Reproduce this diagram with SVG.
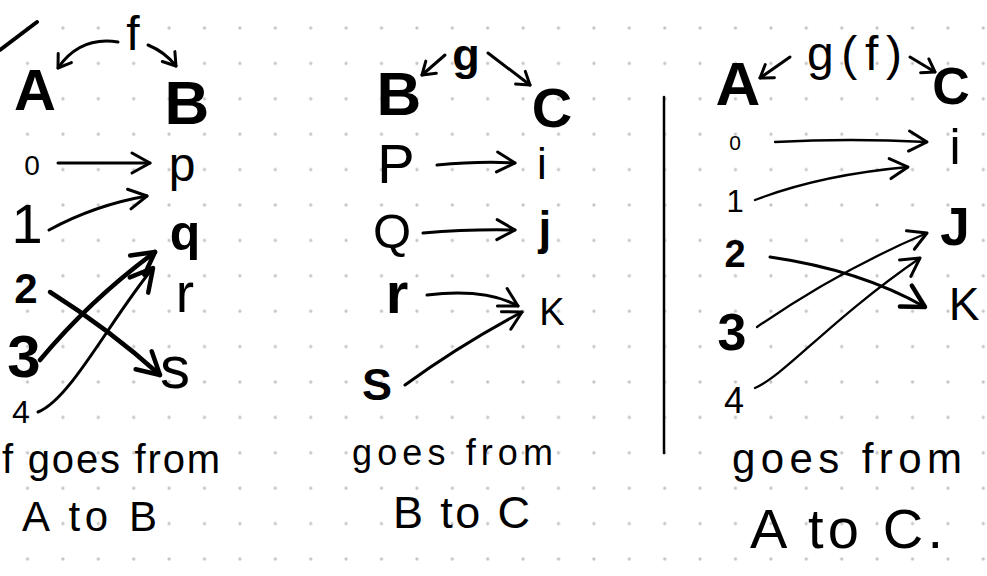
<svg xmlns="http://www.w3.org/2000/svg" width="987" height="576" viewBox="0 0 987 576">
<defs>
<pattern id="dots" patternUnits="userSpaceOnUse" x="9.8" y="10.3" width="35.4" height="35.4">
<circle cx="17.7" cy="17.7" r="1.6" fill="#c4c4c4"/>
</pattern>
<marker id="ah" markerUnits="userSpaceOnUse" viewBox="-24 -14 28 28" refX="0" refY="0" markerWidth="28" markerHeight="28" orient="auto" overflow="visible">
<path d="M-18,-10 L0,0 L-18,10" fill="none" stroke="#000" stroke-width="3" stroke-linecap="round" stroke-linejoin="round"/>
</marker>
<marker id="ahs" markerUnits="userSpaceOnUse" viewBox="-16 -10 20 20" refX="0" refY="0" markerWidth="20" markerHeight="20" orient="auto" overflow="visible">
<path d="M-12,-8 L0,0 L-12,8" fill="none" stroke="#000" stroke-width="3" stroke-linecap="round" stroke-linejoin="round"/>
</marker>
<marker id="ahb" markerUnits="userSpaceOnUse" viewBox="-28 -16 32 32" refX="0" refY="0" markerWidth="32" markerHeight="32" orient="auto" overflow="visible">
<path d="M-22,-12 L0,0 L-22,12" fill="none" stroke="#000" stroke-width="4.5" stroke-linecap="round" stroke-linejoin="round"/>
</marker>
</defs>
<style>
.t{font-family:"Liberation Sans",Arial,sans-serif;fill:#000;text-anchor:middle}
.b{font-weight:700}
.s{text-anchor:start}
.c{fill:none;stroke:#000;stroke-width:3;stroke-linecap:round;stroke-linejoin:round}
.cb{stroke-width:4.5}
.ct{stroke-width:2.3}
</style>
<rect width="987" height="576" fill="#fff"/>
<rect width="987" height="576" fill="url(#dots)"/>

<g id="decor">
<path class="c" d="M0,50 L37,22" style="stroke-width:4"/>
<path class="c" d="M664,97 L664,453" style="stroke-width:2.5"/>
</g>

<g id="connectors">
<path class="c" d="M118,42 Q80,36 58,68" marker-end="url(#ahs)"/>
<path class="c" d="M148,45 Q165,52 176,66" marker-end="url(#ahs)"/>
<path class="c" d="M58,163 L150,163" marker-end="url(#ah)"/>
<path class="c" d="M49,230 Q95,205 147,196" marker-end="url(#ah)"/>
<path class="c cb" d="M50,292 Q110,330 160,375" marker-end="url(#ahb)"/>
<path class="c cb" d="M40,360 Q90,300 155,252" marker-end="url(#ahb)"/>
<path class="c" d="M38,412 C70,400 110,320 153,268" marker-end="url(#ahb)"/>

<path class="c" d="M445,55 L422,75" marker-end="url(#ahs)"/>
<path class="c" d="M488,53 L530,85" marker-end="url(#ahs)"/>
<path class="c" d="M437,165 Q480,161 515,163" marker-end="url(#ah)"/>
<path class="c" d="M423,233 Q470,229 515,230" marker-end="url(#ah)"/>
<path class="c" d="M427,295 C470,290 500,296 518,306" marker-end="url(#ah)"/>
<path class="c" d="M405,385 Q460,345 522,312" marker-end="url(#ah)"/>

<path class="c" d="M790,57 L760,78" marker-end="url(#ahs)"/>
<path class="c" d="M910,57 L935,72" marker-end="url(#ahs)"/>
<path class="c ct" d="M775,142 Q850,138 927,142" marker-end="url(#ah)"/>
<path class="c ct" d="M755,200 Q820,175 908,167" marker-end="url(#ah)"/>
<path class="c" d="M770,257 Q860,270 925,307" marker-end="url(#ahb)"/>
<path class="c ct" d="M757,327 Q840,270 927,233" marker-end="url(#ah)"/>
<path class="c ct" d="M755,388 C785,375 830,320 920,258" marker-end="url(#ah)"/>
</g>

<g id="L-A"><text class="t b" x="35" y="110" font-size="58">A</text></g>
<g id="L-f"><text class="t" x="133" y="50" font-size="48">f</text></g>
<g id="L-B"><text class="t b" x="187" y="124" font-size="62">B</text></g>
<g id="L-0"><text class="t" x="32" y="175" font-size="28">0</text></g>
<g id="L-1"><text class="t" x="27" y="243" font-size="56">1</text></g>
<g id="L-2"><text class="t b" x="26" y="303" font-size="42">2</text></g>
<g id="L-3"><text class="t b" x="24" y="377" font-size="60">3</text></g>
<g id="L-4"><text class="t" x="21" y="423" font-size="32">4</text></g>
<g id="L-p"><text class="t" x="182" y="181" font-size="48">p</text></g>
<g id="L-q"><text class="t b" x="185" y="250" font-size="50">q</text></g>
<g id="L-r"><text class="t" x="185" y="312" font-size="55">r</text></g>
<g id="L-s"><text class="t" x="175" y="388" font-size="60">s</text></g>
<g id="L-caption">
<text class="t s" x="2" y="473" font-size="40" textLength="218" lengthAdjust="spacing">f goes from</text>
<text class="t s" x="22" y="531" font-size="42" textLength="135" lengthAdjust="spacing">A to B</text>
</g>

<g id="M-B"><text class="t b" x="399" y="115" font-size="62">B</text></g>
<g id="M-g"><text class="t b" x="466" y="70" font-size="45">g</text></g>
<g id="M-C"><text class="t b" x="552" y="127" font-size="56">C</text></g>
<g id="M-P"><text class="t" x="396" y="183" font-size="56">P</text></g>
<g id="M-Q"><text class="t" x="392" y="248" font-size="49">Q</text></g>
<g id="M-r"><text class="t b" x="397" y="313" font-size="58">r</text></g>
<g id="M-S"><text class="t b" x="377" y="400" font-size="45">S</text></g>
<g id="M-i"><text class="t" x="542" y="179" font-size="44">i</text></g>
<g id="M-j"><text class="t b" x="545" y="244" font-size="46">j</text></g>
<g id="M-K"><text class="t" x="552" y="325" font-size="38">K</text></g>
<g id="M-caption">
<text class="t s" x="352" y="465" font-size="36" textLength="201" lengthAdjust="spacing">goes from</text>
<text class="t s" x="393" y="528" font-size="45" textLength="137" lengthAdjust="spacing">B to C</text>
</g>

<g id="R-A"><text class="t b" x="738" y="105" font-size="62">A</text></g>
<g id="R-gf"><text class="t s" x="807" y="70" font-size="48" textLength="95" lengthAdjust="spacing">g(f)</text></g>
<g id="R-C"><text class="t b" x="951" y="104" font-size="52">C</text></g>
<g id="R-0"><text class="t" x="735" y="150" font-size="21">0</text></g>
<g id="R-1"><text class="t" x="735" y="212" font-size="31">1</text></g>
<g id="R-2"><text class="t b" x="735" y="267" font-size="38">2</text></g>
<g id="R-3"><text class="t b" x="732" y="350" font-size="52">3</text></g>
<g id="R-4"><text class="t" x="734" y="413" font-size="36">4</text></g>
<g id="R-i"><text class="t" x="955" y="164" font-size="50">i</text></g>
<g id="R-J"><text class="t b" x="955" y="245" font-size="53">J</text></g>
<g id="R-K"><text class="t" x="964" y="320" font-size="46">K</text></g>
<g id="R-caption">
<text class="t s" x="732" y="473" font-size="42" textLength="230" lengthAdjust="spacing">goes from</text>
<text class="t s" x="750" y="548" font-size="56" textLength="193" lengthAdjust="spacing">A to C.</text>
</g>
</svg>
